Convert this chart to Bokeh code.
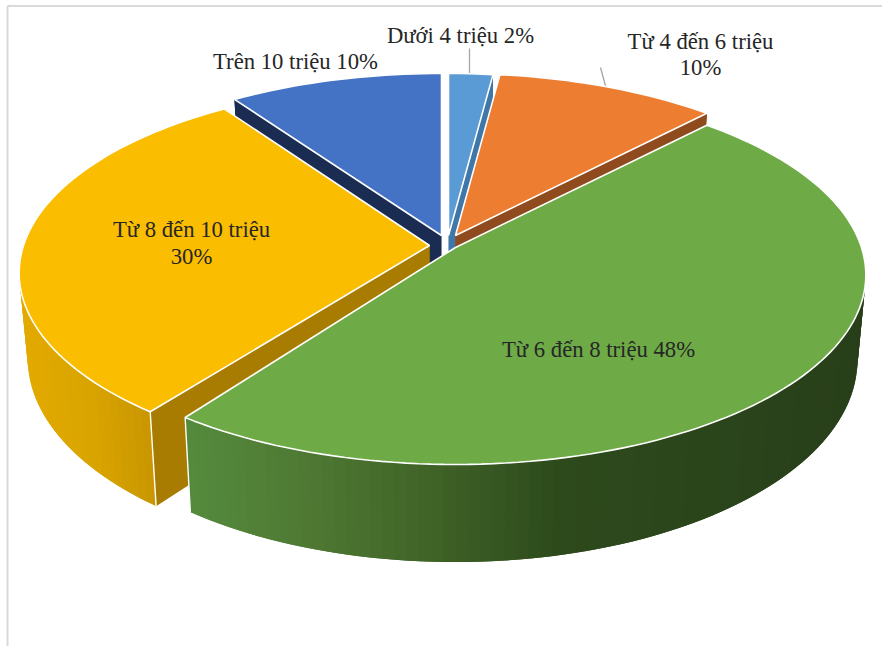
import math
from bokeh.plotting import figure
from bokeh.models import ColumnDataSource, Range1d
from bokeh.core.properties import value
from bokeh.embed import file_html
from bokeh.resources import INLINE

categories = ["Dưới 4 triệu", "Từ 4 đến 6 triệu", "Từ 6 đến 8 triệu", "Từ 8 đến 10 triệu", "Trên 10 triệu"]
shares = [2, 10, 48, 30, 10]
top_colors = ["#5B9BD5", "#ED7D31", "#6EAB47", "#FBBD00", "#4472C4"]
side_colors = ["#3F77A8", "#8F4B1E", "#3F6127", "#A87C00", "#1A2C52"]
# gradient anchors (screen x, colour) for the outer rims
rim_stops = {
    2: [(190, "#548A3C"), (300, "#4F7A33"), (420, "#416528"), (560, "#2D4A1C"), (868, "#283F1A")],
    3: [(22, "#E2AA00"), (90, "#D9A400"), (158, "#C69400")],
}
apexes = [(448, 235), (455, 235), (455, 247), (429, 245), (441, 235)]
draw_order = [4, 0, 1, 3, 2]
# small view corrections of the slice edges, in degrees (start, end)
edge_shift_start = [0, 0, 0, 1.5, 1.2]
edge_shift_end = [0, 0, 0, 1.5, 0]

label_texts = ["Dưới 4 triệu 2%", "Từ 4 đến 6 triệu", "10%", "Trên 10 triệu 10%",
               "Từ 8 đến 10 triệu", "30%", "Từ 6 đến 8 triệu 48%"]
label_x = [460, 700, 700, 295, 191, 191, 598]
label_y = [35, 41, 67, 61, 229, 256, 349]

R, RY, K, H, TAPER, CX = 406.0, 185.5, 0.145, 83.5, 0.98, 445.0


def top_pt(apex, th, r=1.0):
    X, Y = r * math.sin(th), -r * math.cos(th)
    s = 1 / (1 - K * Y)
    return apex[0] + R * X * s, apex[1] + RY * Y * s, s


def low_pt(apex, th, r=1.0):
    x, y, s = top_pt(apex, th, r)
    return CX + (x - CX) * TAPER, y + H * s


def hex2(c):
    return [int(c[i:i + 2], 16) for i in (1, 3, 5)]


def grad(stops, x):
    if x <= stops[0][0]:
        return stops[0][1]
    for (a, ca), (b, cb) in zip(stops, stops[1:]):
        if x <= b:
            t = (x - a) / (b - a)
            return "#%02X%02X%02X" % tuple(round(u + (v - u) * t) for u, v in zip(hex2(ca), hex2(cb)))
    return stops[-1][1]


xs, ys, fills, lines, widths = [], [], [], [], []


def add(px, py, fill, line, w):
    xs.append(px); ys.append(py); fills.append(fill); lines.append(line); widths.append(w)


bounds = [0]
for v in shares:
    bounds.append(bounds[-1] + v)
total = bounds[-1]

for i in draw_order:
    a0 = 2 * math.pi * bounds[i] / total + math.radians(edge_shift_start[i])
    a1 = 2 * math.pi * bounds[i + 1] / total + math.radians(edge_shift_end[i])
    apex = apexes[i]
    n = max(3, int((a1 - a0) / math.radians(1.5)))
    angs = [a0 + (a1 - a0) * j / n for j in range(n + 1)]
    # radial walls
    for a in (a0, a1):
        t = top_pt(apex, a)
        l = low_pt(apex, a)
        la = low_pt(apex, a, 0.0)
        add([apex[0], t[0], l[0], la[0]], [apex[1], t[1], l[1], la[1]], side_colors[i], side_colors[i], 0)
    # outer rim: each strip overlaps the next so no seams show
    stops = rim_stops.get(i)
    for j in range(n):
        a, b = angs[j], angs[min(j + 2, n)]
        t0, t1 = top_pt(apex, a), top_pt(apex, b)
        l0, l1 = low_pt(apex, a), low_pt(apex, b)
        tm = top_pt(apex, (angs[j] + angs[j + 1]) / 2)
        c = grad(stops, tm[0]) if stops else side_colors[i]
        add([t0[0], t1[0], l1[0], l0[0]], [t0[1], t1[1], l1[1], l0[1]], c, c, 0)
    # white corner edges on the visible ends of the rim
    if stops:
        for a in (a0, a1):
            t, l = top_pt(apex, a), low_pt(apex, a)
            if -math.cos(a) > 0:
                add([t[0], l[0]], [t[1], l[1]], "#FFFFFF", "#FFFFFF", 1.4)
    # top face
    pts = [top_pt(apex, a) for a in angs]
    add([apex[0]] + [q[0] for q in pts], [apex[1]] + [q[1] for q in pts], top_colors[i], "#FFFFFF", 1.6)

p = figure(width=882, height=646, output_backend="svg", toolbar_location=None,
           x_range=Range1d(0, 882), y_range=Range1d(646, 0),
           min_border=0, margin=(0, 0, 0, 0))
p.axis.visible = False
p.grid.visible = False
p.outline_line_color = None
p.background_fill_color = "#FFFFFF"

# page frame
p.segment([7, 7], [5.5, 5.5], [882, 7], [5.5, 646], line_color="#D9D9D9", line_width=2)

# leader lines
p.segment([469, 600], [48, 67], [469, 606], [74, 89], line_color="#A6A6A6", line_width=1.3)

src = ColumnDataSource(dict(xs=xs, ys=ys, fill=fills, line=lines, w=widths))
p.patches("xs", "ys", source=src, fill_color="fill", line_color="line", line_width="w")

p.text(label_x, label_y, text=label_texts, text_font=value("Liberation Serif"),
       text_font_size="22.7px", text_color="#262626", text_align="center", text_baseline="middle")

open("out.html", "w").write(file_html(p, INLINE))
